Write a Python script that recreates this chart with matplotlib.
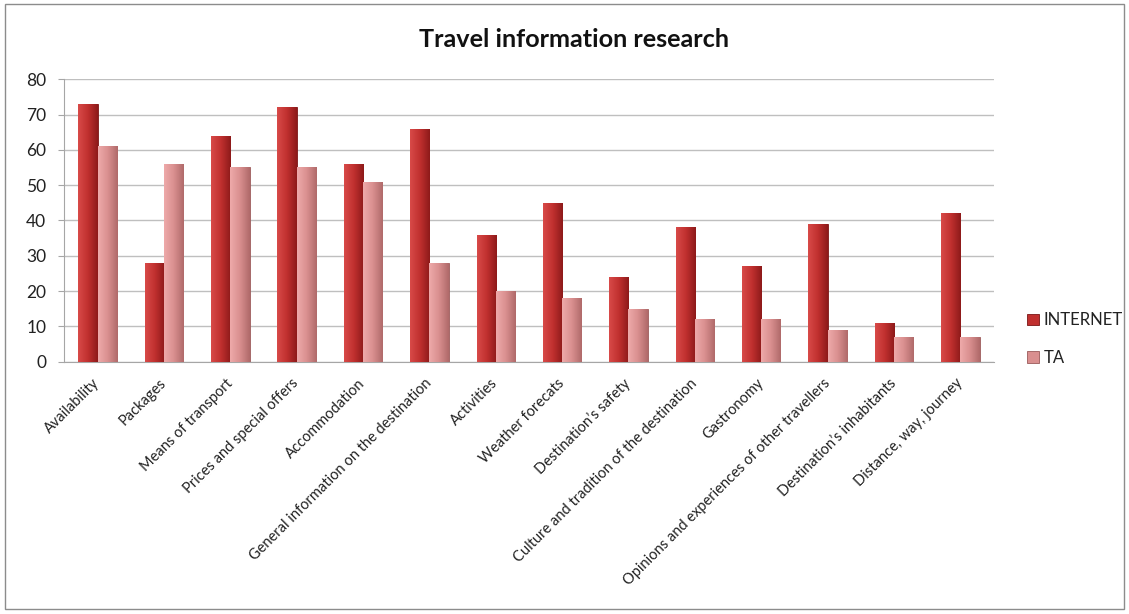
import matplotlib.pyplot as plt
import numpy as np
from matplotlib.colors import LinearSegmentedColormap
from matplotlib.patches import Rectangle

plt.rcParams['font.family'] = ['Lato', 'DejaVu Sans']

categories = ['Availability', 'Packages', 'Means of transport',
              'Prices and special offers', 'Accommodation',
              'General information on the destination', 'Activities',
              'Weather forecats', 'Destination\u2019s safety',
              'Culture and tradition of the destination', 'Gastronomy',
              'Opinions and experiences of other travellers',
              'Destination\u2019s inhabitants', 'Distance, way, journey']
internet = [73, 28, 64, 72, 56, 66, 36, 45, 24, 38, 27, 39, 11, 42]
ta = [61, 56, 55, 55, 51, 28, 20, 18, 15, 12, 12, 9, 7, 7]

fig = plt.figure(figsize=(11.29, 6.14), dpi=100)
ax = fig.add_axes([0.057, 0.411, 0.823, 0.460])

x = np.arange(len(categories))
w = 0.29

cm_net = LinearSegmentedColormap.from_list('net', ['#d84a48', '#c0302f', '#8e1a1a'])
cm_ta = LinearSegmentedColormap.from_list('ta', ['#eeaaaa', '#d98f8f', '#b06a6a'])
grad = np.linspace(0, 1, 64).reshape(1, -1)


def shaded_bars(xs, vals, cmap, edge, label):
    bars = ax.bar(xs, vals, w, color=cmap(0.5), edgecolor=edge, linewidth=0.6,
                  label=label, zorder=2)
    for b in bars:
        im = ax.imshow(grad, cmap=cmap, aspect='auto', zorder=3,
                       extent=[b.get_x(), b.get_x() + b.get_width(), 0, b.get_height()])
        im.set_clip_path(b)
    return bars


shaded_bars(x - w / 2, internet, cm_net, '#7a1515', 'INTERNET')
shaded_bars(x + w / 2, ta, cm_ta, '#9a5a5a', 'TA')

ax.set_xlim(-0.5, len(categories) - 0.5)
ax.set_ylim(0, 80)
ax.set_yticks(range(0, 81, 10))
ax.yaxis.grid(True, color='#bfbfbf', linewidth=1)
ax.set_axisbelow(True)
for s in ['top', 'right']:
    ax.spines[s].set_visible(False)
for s in ['left', 'bottom']:
    ax.spines[s].set_color('#a6a6a6')
ax.tick_params(axis='y', labelsize=12.5, colors='#a6a6a6', labelcolor='#222222',
               length=4, pad=9)
ax.tick_params(axis='x', length=0, pad=14)
ax.set_xticks(x)
ax.set_xticklabels(categories, rotation=45, ha='right', va='center',
                   rotation_mode='anchor', fontsize=10.5, color='#222222')

fig.text(0.508, 0.935, 'Travel information research', ha='center', va='center',
         fontsize=18.2, fontweight='bold', color='#111111')

leg = ax.legend(loc='center left', bbox_to_anchor=(1.02, 0.08), frameon=False,
                fontsize=12, handlelength=0.7, handleheight=0.7, labelspacing=1.3,
                handletextpad=0.3)
for t in leg.get_texts():
    t.set_color('#222222')

fig.patches.append(Rectangle((0.004, 0.008), 0.992, 0.985, transform=fig.transFigure,
                             fill=False, edgecolor='#8c8c8c', linewidth=1))

fig.savefig('out.png', dpi=100)
